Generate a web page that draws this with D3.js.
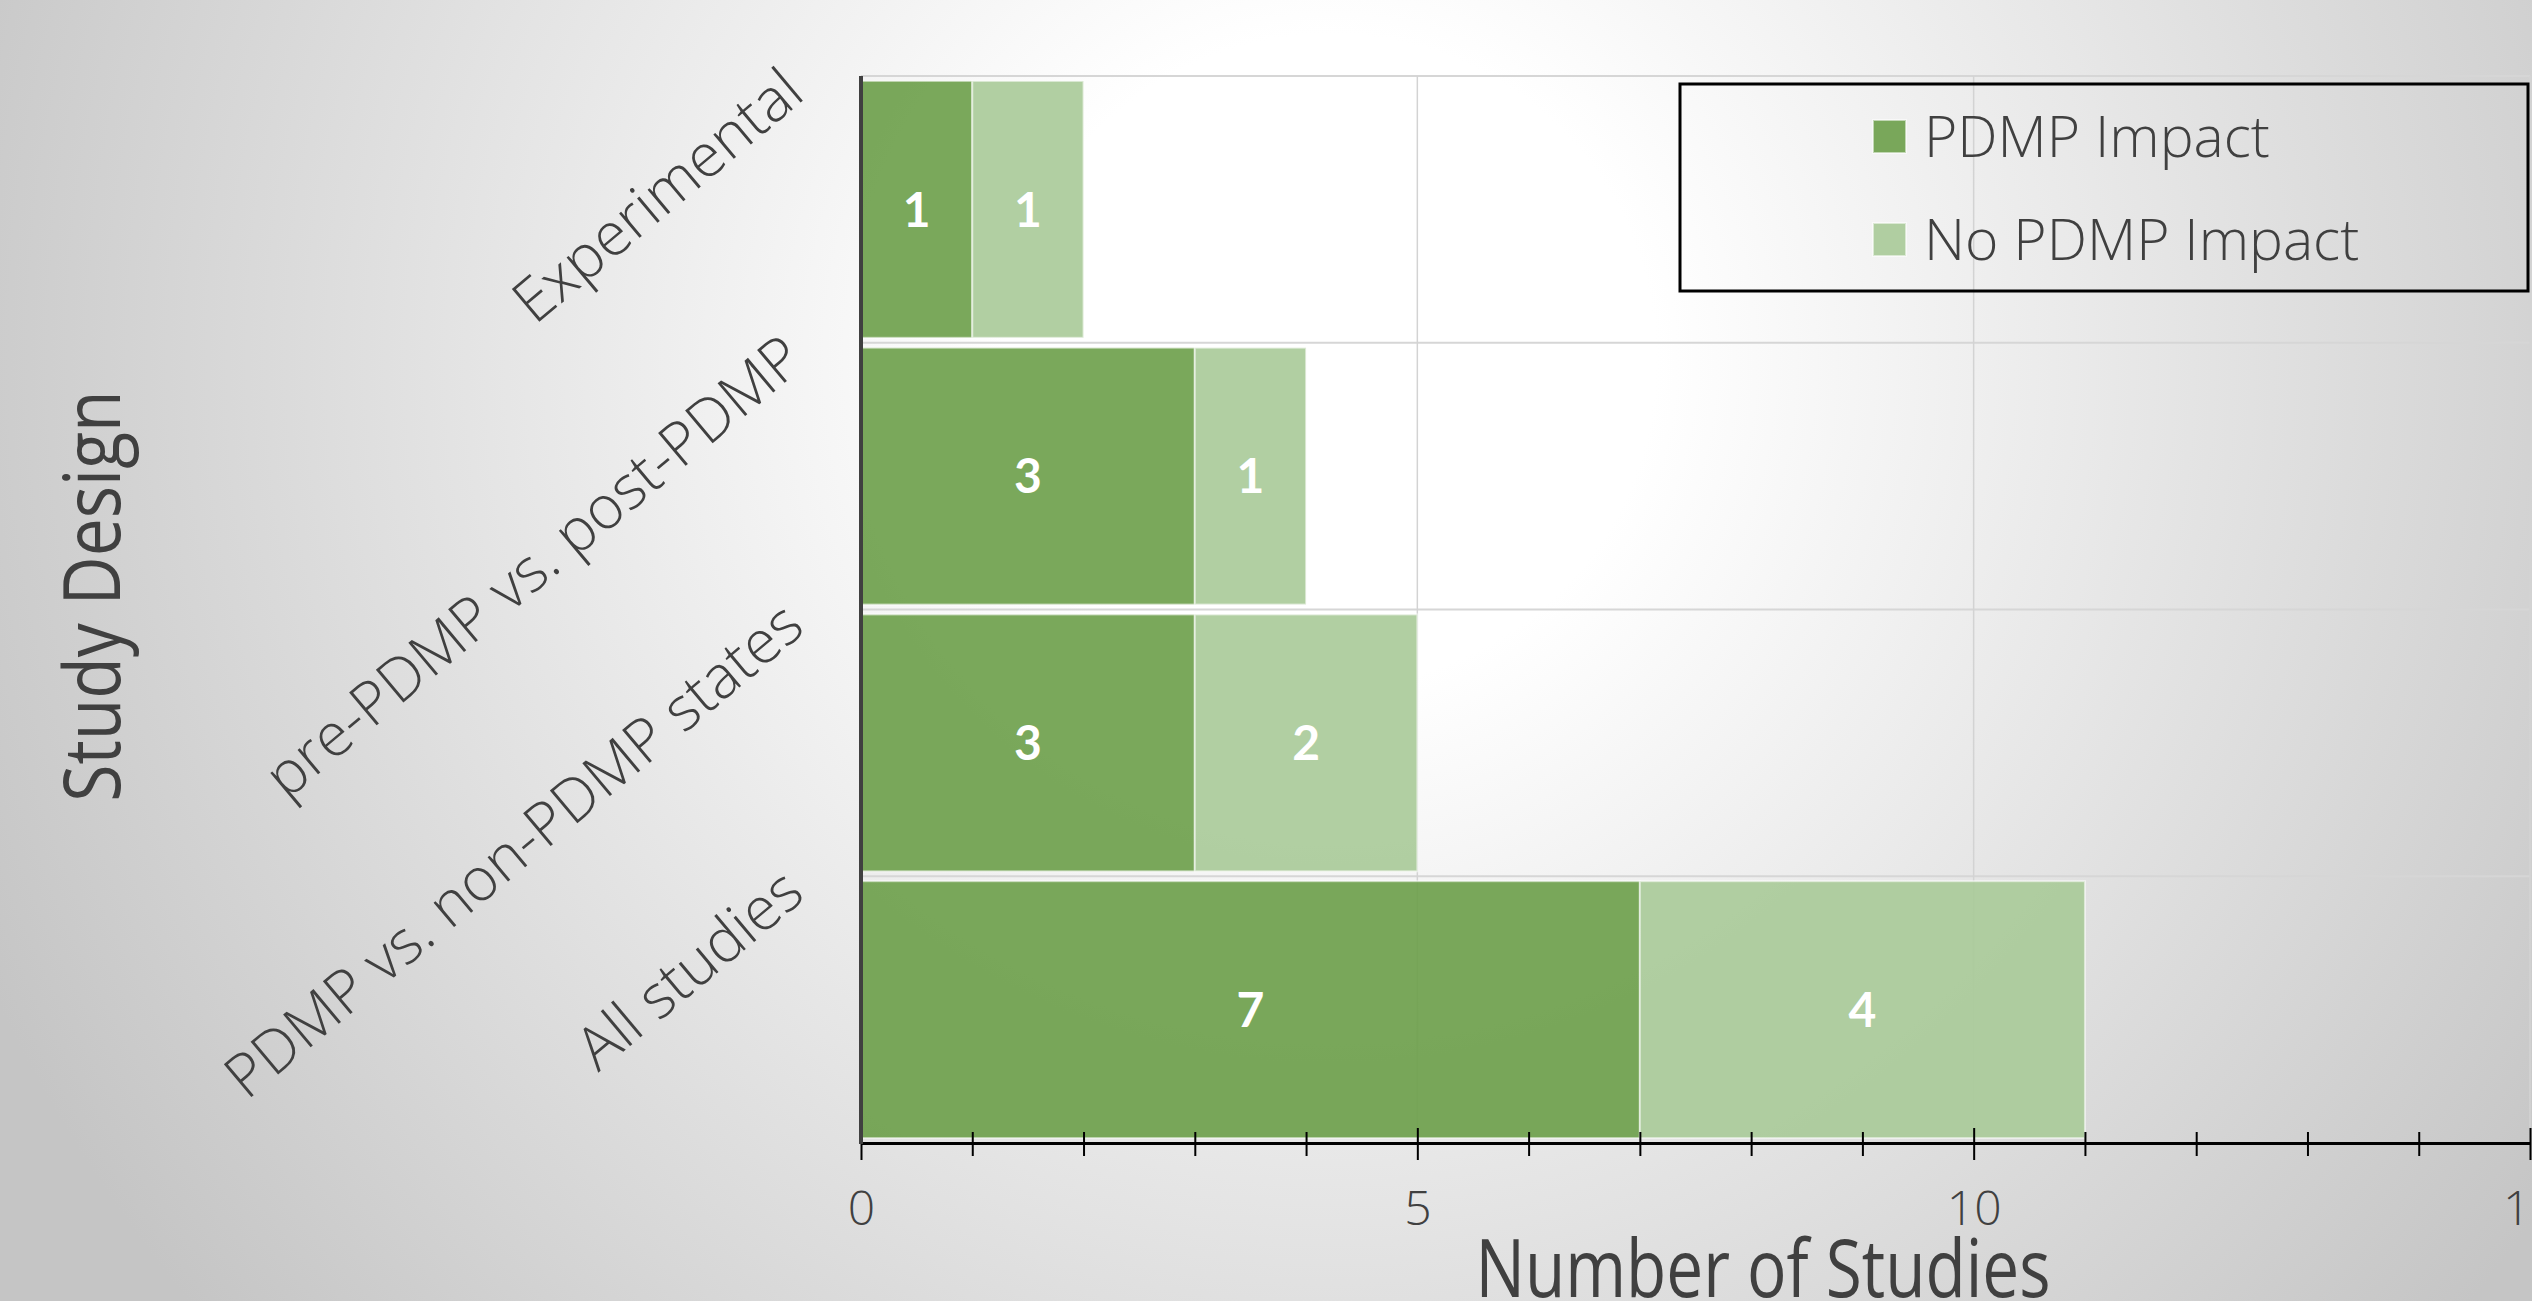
<!DOCTYPE html>
<html>
<head>
<meta charset="utf-8">
<script src="https://cdn.jsdelivr.net/npm/d3@7"></script>
<style>
  html, body { margin: 0; padding: 0; overflow: hidden; background: #ffffff; }
  svg { display: block; }
</style>
</head>
<body>
<svg id="chart" width="2532" height="1301"></svg>
<script>
// Study designs (top to bottom) and counts of studies per outcome
const categories = ["Experimental", "pre-PDMP vs. post-PDMP", "PDMP vs. non-PDMP states", "All studies"];
const impactCounts = [1, 3, 3, 7];
const noImpactCounts = [1, 1, 2, 4];
const seriesNames = ["PDMP Impact", "No PDMP Impact"];
const majorTicks = [0, 5, 10, 15];
const xTitle = "Number of Studies";
const yTitle = "Study Design";

const W = 2532, H = 1301;
const plot = { left: 861, right: 2530, top: 76, bottom: 1143 };
const colors = ["#6c9f49", "#a8ca98"];
const textColor = "#404040";

const svg = d3.select("#chart");

// Soft radial background
const defs = svg.append("defs");
const grad = defs.append("radialGradient")
  .attr("id", "bg").attr("gradientUnits", "userSpaceOnUse")
  .attr("cx", 1330).attr("cy", 360).attr("r", 1480);
grad.append("stop").attr("offset", 0).attr("stop-color", "#ffffff");
grad.append("stop").attr("offset", 0.22).attr("stop-color", "#ffffff");
grad.append("stop").attr("offset", 1).attr("stop-color", "#c5c5c5");
svg.append("rect").attr("width", W).attr("height", H).attr("fill", "url(#bg)");

// Scales
const x = d3.scaleLinear().domain([0, 15]).range([plot.left, plot.right]);
const y = d3.scaleBand().domain(categories)
  .range([plot.top, plot.bottom])
  .paddingInner(0.037).paddingOuter(0.0185);

const rows = categories.map((c, i) => ({ category: c, impact: impactCounts[i], noImpact: noImpactCounts[i] }));
const stack = d3.stack().keys(["impact", "noImpact"]);
const layers = stack(rows);

// Gridlines
const halfGap = (y.step() - y.bandwidth()) / 2;
const grid = svg.append("g");
grid.selectAll("line.h").data(categories).join("line")
  .attr("x1", plot.left).attr("x2", plot.right)
  .attr("y1", d => y(d) - halfGap).attr("y2", d => y(d) - halfGap)
  .attr("stroke", "#d6d6d6").attr("stroke-width", 2);
grid.selectAll("line.v").data(majorTicks.filter(d => d > 0)).join("line")
  .attr("x1", d => x(d)).attr("x2", d => x(d))
  .attr("y1", plot.top).attr("y2", plot.bottom)
  .attr("stroke", "#d3d3d3").attr("stroke-width", 1.5);

// Stacked bars
const barG = svg.append("g");
layers.forEach((layer, li) => {
  barG.append("g").selectAll("rect").data(layer).join("rect")
    .attr("x", d => x(d[0]))
    .attr("y", d => y(d.data.category))
    .attr("width", d => x(d[1]) - x(d[0]))
    .attr("height", y.bandwidth())
    .attr("fill", colors[li])
    .attr("fill-opacity", 0.9)
    .attr("stroke", "rgba(255,255,255,0.55)")
    .attr("stroke-width", 2);
});

// Value labels inside the segments
layers.forEach(layer => {
  svg.append("g").selectAll("text").data(layer).join("text")
    .attr("x", d => (x(d[0]) + x(d[1])) / 2)
    .attr("y", d => y(d.data.category) + y.bandwidth() / 2)
    .attr("dy", "0.36em")
    .attr("text-anchor", "middle")
    .attr("font-family", "Lato, 'Open Sans', sans-serif")
    .attr("font-weight", 700)
    .attr("font-size", 48)
    .attr("fill", "#ffffff")
    .text(d => d[1] - d[0]);
});

// Bottom axis with minor ticks every study
const gx = svg.append("g").attr("transform", `translate(0,${plot.bottom})`)
  .call(d3.axisBottom(x).tickValues(d3.range(0, 16))
    .tickFormat(d => majorTicks.includes(d) ? d : "")
    .tickSizeOuter(0));
gx.select(".domain").attr("stroke", "#000").attr("stroke-width", 3);
gx.selectAll(".tick line")
  .attr("y1", d => majorTicks.includes(d) ? -15 : -11)
  .attr("y2", d => majorTicks.includes(d) ? 17 : 13)
  .attr("stroke", "#000").attr("stroke-width", 2);
gx.selectAll(".tick text")
  .attr("y", 82).attr("dy", null)
  .attr("font-family", "'Open Sans', Lato, sans-serif")
  .attr("font-weight", 300)
  .attr("font-size", 48)
  .attr("fill", textColor);

// Left axis line
svg.append("line")
  .attr("x1", plot.left).attr("x2", plot.left)
  .attr("y1", plot.top).attr("y2", plot.bottom + 1)
  .attr("stroke", "#404040").attr("stroke-width", 4);

// Rotated category labels
svg.append("g").selectAll("text").data(categories).join("text")
  .attr("transform", d => `translate(807,${y(d) + y.bandwidth() / 2 - 112}) rotate(-40)`)
  .attr("text-anchor", "end")
  .attr("font-family", "'Open Sans', Lato, sans-serif")
  .attr("font-weight", 300)
  .attr("font-size", 60)
  .attr("fill", textColor)
  .text(d => d);

// Axis titles (set in a narrow cut)
svg.append("text")
  .attr("x", 1763).attr("y", 1297)
  .attr("text-anchor", "middle")
  .attr("font-family", "'Open Sans', Lato, sans-serif")
  .attr("font-size", 80)
  .attr("textLength", 575).attr("lengthAdjust", "spacingAndGlyphs")
  .attr("fill", textColor)
  .text(xTitle);

svg.append("text")
  .attr("transform", "translate(120,596) rotate(-90) scale(0.87,1)")
  .attr("text-anchor", "middle")
  .attr("font-family", "'Open Sans', Lato, sans-serif")
  .attr("font-size", 78)
  .attr("fill", textColor)
  .text(yTitle);

// Legend
const legend = svg.append("g");
legend.append("rect")
  .attr("x", 1680).attr("y", 84).attr("width", 848).attr("height", 207)
  .attr("fill", "none").attr("stroke", "#000").attr("stroke-width", 3);
const legendRows = legend.selectAll("g.item").data(seriesNames).join("g")
  .attr("transform", (d, i) => `translate(1873,${120 + i * 103})`);
legendRows.append("rect")
  .attr("width", 33).attr("height", 33)
  .attr("fill", (d, i) => colors[i]).attr("fill-opacity", 0.9)
  .attr("stroke", "rgba(255,255,255,0.55)").attr("stroke-width", 2);
legendRows.append("text")
  .attr("x", 51).attr("y", 37)
  .attr("font-family", "'Open Sans', Lato, sans-serif")
  .attr("font-weight", 300)
  .attr("font-size", 57)
  .attr("fill", textColor)
  .text(d => d);
</script>
</body>
</html>
